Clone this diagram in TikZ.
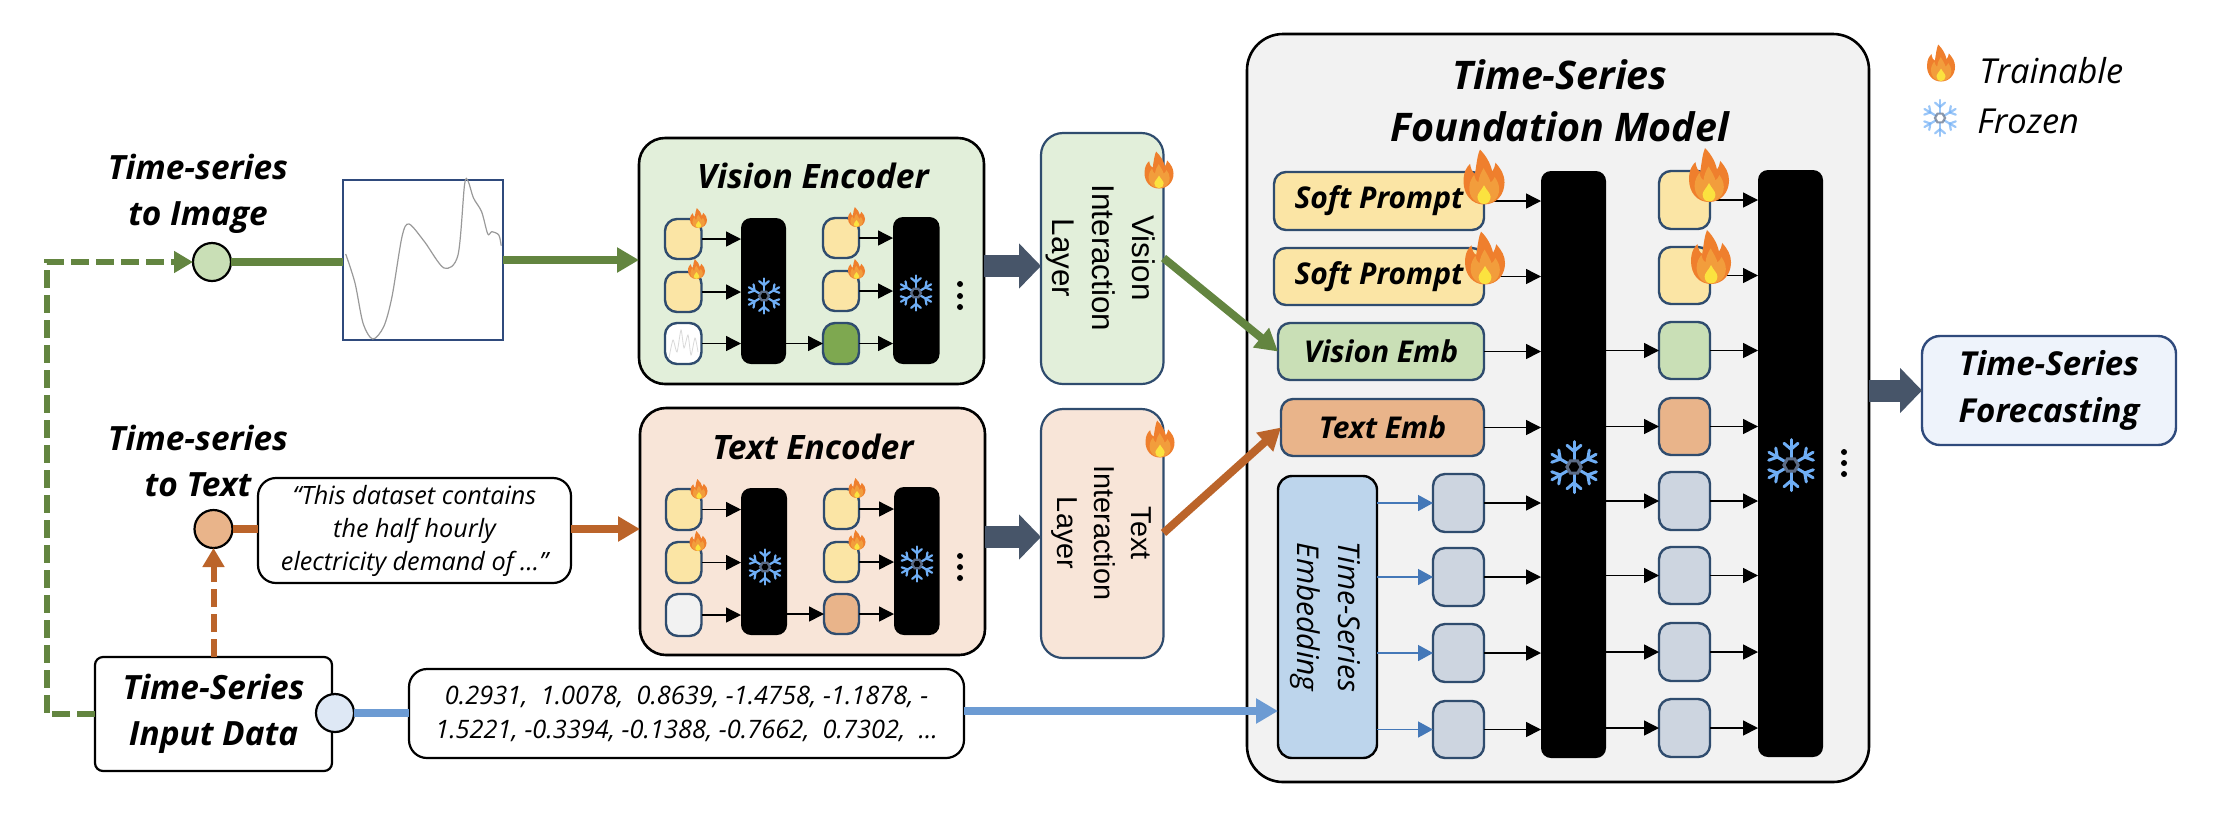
\documentclass[tikz,border=0pt]{standalone}
\usepackage{fontspec}
\usetikzlibrary{arrows.meta,calc}
\newfontfamily\cf{Open Sans}
\newfontfamily\af{Liberation Sans}
\definecolor{gline}{HTML}{638540}
\definecolor{bline}{HTML}{BB642A}
\definecolor{uline}{HTML}{6C9BD3}
\definecolor{tline}{HTML}{4478B8}
\definecolor{edge}{HTML}{2F4C6E}
\definecolor{navy}{HTML}{2F4A7C}
\definecolor{block}{HTML}{475569}
\definecolor{lgreen}{HTML}{E2EFDA}
\definecolor{lorange}{HTML}{F8E5D8}
\definecolor{cgreen}{HTML}{C9DFB6}
\definecolor{corange}{HTML}{E9B48A}
\definecolor{cyellow}{HTML}{FBE5A5}
\definecolor{cgray}{HTML}{CDD5E0}
\definecolor{dgreen}{HTML}{7EA850}
\definecolor{cblue}{HTML}{BDD5EC}
\definecolor{cpale}{HTML}{DEE8F5}
\definecolor{cfore}{HTML}{EEF3FB}
\definecolor{fm}{HTML}{F2F2F2}
\definecolor{fireo}{HTML}{EF7F2D}
\definecolor{firem}{HTML}{F29D3C}
\definecolor{firey}{HTML}{FBE23F}
\definecolor{snowc}{HTML}{6FAEF5}
\definecolor{snowh}{HTML}{5B6B85}
\tikzset{
 box/.style={draw,rectangle,inner sep=0pt,outer sep=0pt,align=center},
 cell/.style={box,draw=edge,line width=1.2pt,rounded corners=6pt},
 bigbox/.style={box,draw=black,line width=1.3pt,rounded corners=13pt},
 txtbox/.style={box,draw=black,line width=1.1pt,rounded corners=9pt},
 ilbox/.style={box,draw=edge,line width=1.1pt,rounded corners=11pt},
 blackbar/.style={box,draw=none,fill=black,rounded corners=5pt},
 ttl/.style={inner sep=0pt,outer sep=0pt,align=center,font=\cf\bfseries\itshape\fontsize{16.7}{23}\selectfont},
 ital/.style={inner sep=0pt,outer sep=0pt,align=center,font=\cf\itshape\fontsize{12.6}{16.5}\selectfont},
 circ/.style={draw=black,circle,line width=1.1pt,minimum size=19pt,inner sep=0pt,outer sep=0pt},
 thinarr/.style={-{Triangle[length=7.5pt,width=7.5pt]},line width=.7pt,black},
 bluearr/.style={-{Triangle[length=7.5pt,width=8pt]},line width=.7pt,tline},
 fat/.style={-{Triangle[length=11pt,width=12pt]},line width=4pt},
 thick dash/.style={-{Triangle[length=9.5pt,width=10.5pt]},line width=3pt,dash pattern=on 9pt off 3.5pt},
 blockarr/.style={-{Triangle[length=11pt,width=22pt]},line width=11pt,draw=block,color=block}
}
\newcommand{\bx}[7]{%
 \pgfmathsetmacro\tmpw{(#5-#3)*0.5}\pgfmathsetmacro\tmph{(#6-#4)*0.5}%
 \node[#1,minimum width=\tmpw pt,minimum height=\tmph pt] (#2) at ({(#3+#5)/2},{(#4+#6)/2}) {#7};}
\newcommand{\snow}[4]{\begin{scope}[shift={(#1,#2)},scale=#3]
 \foreach \a in {30,90,...,330}{
  \draw[snowc,line width=#4pt,line cap=round] (\a:.3)--(\a:1);
  \draw[snowc,line width=#4pt,line cap=round] ([shift={(\a:.62)}]\a+50:.36)--(\a:.62)--([shift={(\a:.62)}]\a-50:.36);}
 \draw[snowh,line width=#4pt] (0:.28)--(60:.28)--(120:.28)--(180:.28)--(240:.28)--(300:.28)--cycle;
\end{scope}}
\newcommand{\fire}[4]{\begin{scope}[shift={(#1,#2)},xscale=#3,yscale=#4]
 \fill[fireo] (0,.5) .. controls (-.3,.5) and (-.5,.32) .. (-.5,.08) .. controls (-.5,-.1) and (-.42,-.18) .. (-.34,-.24)
  .. controls (-.32,-.14) and (-.28,-.08) .. (-.22,-.06) .. controls (-.18,-.25) and (-.16,-.4) .. (-.1,-.5)
  .. controls (.06,-.38) and (.16,-.24) .. (.2,-.1) .. controls (.24,-.14) and (.27,-.2) .. (.28,-.26)
  .. controls (.42,-.14) and (.5,-.04) .. (.5,.1) .. controls (.5,.32) and (.3,.5) .. (0,.5) -- cycle;
 \fill[firem] (0,.49) .. controls (-.22,.49) and (-.36,.36) .. (-.36,.2) .. controls (-.36,.08) and (-.28,0) .. (-.24,-.04)
  .. controls (-.22,.04) and (-.18,.08) .. (-.14,.1) .. controls (-.12,-.02) and (-.06,-.1) .. (-.01,-.16)
  .. controls (.06,-.06) and (.14,.02) .. (.16,.1) .. controls (.2,.08) and (.24,.04) .. (.26,.0)
  .. controls (.32,.06) and (.37,.14) .. (.37,.22) .. controls (.37,.38) and (.22,.49) .. (0,.49) -- cycle;
 \fill[firey] (0,.49) .. controls (-.1,.49) and (-.16,.43) .. (-.16,.36) .. controls (-.16,.3) and (-.06,.24) .. (0,.15)
  .. controls (.06,.24) and (.16,.3) .. (.16,.36) .. controls (.16,.43) and (.1,.49) .. (0,.49) -- cycle;
\end{scope}}
\begin{document}
\begin{tikzpicture}[x=0.5pt,y=-0.5pt]
\useasboundingbox (0,0) rectangle (2214,816);
% left column
\node[ttl] (t1) at (198,194) {Time-series\\to Image};
\node[ttl] (t2) at (198,461) {Time-series\\to Text};
\node[circ,fill=cgreen] (c1) at (212,262) {};
\node[circ,fill=corange] (c2) at (213.5,529) {};
\bx{box,draw=navy,line width=1.1pt}{img}{343}{180}{503}{340}{}
\draw[gray!80,line width=.6pt] plot[smooth,tension=.5] coordinates {(345.7,254)(355,283)(363,323)(372.7,339)(383.7,326.7)(392,296.7)(402,236.7)(409,224)(424.5,241.7)(444,268)(458,255)(464.5,185)(468,181)(473.5,198)(481.6,211.7)(487.8,234)(491.8,231.7)(498.8,235)(501.2,245.7)};
\bx{txtbox,font=\cf\bfseries\itshape\fontsize{16.7}{23}\selectfont,rounded corners=4pt}{inp}{95}{657}{332}{771}{Time-Series\\Input Data}
\node[circ,fill=cpale] (c3) at (335,713) {};
\bx{txtbox,ital}{sent}{258}{478}{571}{583}{“This dataset contains\\the half hourly\\electricity demand of …”}
\bx{txtbox,ital,font=\cf\itshape\fontsize{12.7}{17}\selectfont}{vals}{409}{669}{964}{758}{0.2931,~ 1.0078,~ 0.8639, -1.4758, -1.1878, -\\1.5221, -0.3394, -0.1388, -0.7662,~ 0.7302,~ …}
% encoders
\bx{bigbox,fill=lgreen}{venc}{639}{138}{984}{384}{}
\bx{bigbox,fill=lorange}{tenc}{640}{408}{985}{655}{}
\node[ttl,font=\cf\bfseries\itshape\fontsize{16.8}{24}\selectfont] (vt) at (813,176) {Vision Encoder};
\node[ttl,font=\cf\bfseries\itshape\fontsize{16.8}{24}\selectfont] (tt) at (813,447) {Text Encoder};
% vision cells
\bx{cell,fill=cyellow}{va1}{665}{219}{701.5}{259}{}
\bx{cell,fill=cyellow}{va2}{665}{272}{701.5}{312}{}
\bx{cell,fill=white}{va3}{665}{323}{701.5}{364}{}
\draw[gray!30,line width=.4pt] plot[smooth,tension=.4] coordinates {(669,358)(673,340)(677,352)(681,330)(684,348)(688,335)(691,355)(695,338)(698,352)};
\bx{blackbar}{vb1}{741}{218}{786}{364}{}
\bx{cell,fill=cyellow}{vc1}{823}{218}{859}{258}{}
\bx{cell,fill=cyellow}{vc2}{823}{271}{859}{311}{}
\bx{cell,fill=dgreen}{vc3}{823}{323}{859}{364}{}
\bx{blackbar}{vb2}{893}{217}{939.5}{364}{}
\foreach \a/\b in {va1/vb1,va2/vb1,va3/vb1,vc1/vb2,vc2/vb2,vc3/vb2}{\draw[thinarr] (\a.east)--(\a.east -| \b.west);}
\draw[thinarr] (vc3.west -| vb1.east)--(vc3.west);
% text cells
\bx{cell,fill=cyellow}{ta1}{666}{489}{701.5}{530}{}
\bx{cell,fill=cyellow}{ta2}{666}{542}{701.5}{583}{}
\bx{cell,fill=fm}{ta3}{666}{594}{701.5}{636}{}
\bx{blackbar}{tb1}{741}{488}{787}{635}{}
\bx{cell,fill=cyellow}{tc1}{824}{489}{859}{529}{}
\bx{cell,fill=cyellow}{tc2}{824}{542}{859}{582}{}
\bx{cell,fill=corange}{tc3}{824}{594}{859}{634}{}
\bx{blackbar}{tb2}{894}{487}{939.5}{635}{}
\foreach \a/\b in {ta1/tb1,ta2/tb1,ta3/tb1,tc1/tb2,tc2/tb2,tc3/tb2}{\draw[thinarr] (\a.east)--(\a.east -| \b.west);}
\draw[thinarr] (tc3.west -| tb1.east)--(tc3.west);
\snow{764}{296}{17.5}{1.1}\snow{916}{293}{17.5}{1.1}\snow{765}{567}{17.5}{1.1}\snow{917}{564}{17.5}{1.1}
\foreach \y in {284,296,307}{\fill (960,\y) circle (1.5pt);}
\foreach \y in {556,567,578}{\fill (960,\y) circle (1.5pt);}
\fire{698.5}{218}{17}{20}\fire{696.5}{269}{17}{20}\fire{856.5}{217}{17}{20}\fire{856.5}{269}{17}{20}
\fire{699}{489}{17}{20}\fire{698}{541}{17}{20}\fire{857}{488}{17}{20}\fire{857}{540}{17}{20}
% interaction layers
\bx{ilbox,fill=lgreen}{vil}{1041}{133}{1163.5}{384}{}
\bx{ilbox,fill=lorange}{til}{1041}{409}{1163.5}{658}{}
\node[rotate=-90,inner sep=0pt,align=center,font=\af\fontsize{15.7}{20}\selectfont] (vilt) at (1101,258) {Vision\\Interaction\\Layer};
\node[rotate=-90,inner sep=0pt,align=center,font=\af\fontsize{14.4}{18.5}\selectfont] (tilt) at (1101,533) {Text\\Interaction\\Layer};
\fire{1159}{170}{29}{37}\fire{1160}{439}{29}{37}
\draw[blockarr] (venc.east |- 985,266) -- (vil.west |- 985,266);
\draw[blockarr] (tenc.east |- 985,537) -- (til.west |- 985,537);
% foundation model
\bx{bigbox,fill=fm,rounded corners=18pt}{fm}{1247}{34}{1869}{782}{}
\node[ttl,font=\cf\bfseries\itshape\fontsize{19.7}{26}\selectfont] (fmt) at (1560,101) {Time-Series\\Foundation Model};
\tikzset{cl/.style={inner sep=0pt,font=\cf\bfseries\itshape\fontsize{15}{20}\selectfont}}
\bx{cell,fill=cyellow,cl}{sp1}{1274}{172}{1484}{230}{Soft Prompt}
\bx{cell,fill=cyellow,cl}{sp2}{1274}{248}{1484}{305}{Soft Prompt}
\bx{cell,fill=cgreen,cl}{ve}{1278}{323}{1484}{380}{Vision Emb}
\bx{cell,fill=corange,cl}{te}{1281}{399}{1484}{456}{Text Emb}
\bx{box,draw=black,line width=1.2pt,rounded corners=7pt,fill=cblue}{tse}{1278}{476}{1377}{758}{}
\node[rotate=-90,align=center,inner sep=0pt,font=\cf\itshape\fontsize{15}{20.5}\selectfont] (tset) at (1325,617) {Time-Series\\Embedding};
\bx{cell,fill=cgray}{g1}{1433}{474}{1484}{532}{}
\bx{cell,fill=cgray}{g2}{1433}{548}{1484}{606}{}
\bx{cell,fill=cgray}{g3}{1433}{624}{1484}{682}{}
\bx{cell,fill=cgray}{g4}{1433}{701}{1484}{758}{}
\bx{blackbar}{L1}{1541}{171}{1606}{758}{}
\bx{cell,fill=cyellow}{r1}{1659}{171}{1710}{229}{}
\bx{cell,fill=cyellow}{r2}{1659}{247}{1710}{304}{}
\bx{cell,fill=cgreen}{r3}{1659}{322}{1710}{379}{}
\bx{cell,fill=corange}{r4}{1659}{398}{1710}{455}{}
\bx{cell,fill=cgray}{r5}{1659}{472}{1710}{530}{}
\bx{cell,fill=cgray}{r6}{1659}{547}{1710}{604}{}
\bx{cell,fill=cgray}{r7}{1659}{623}{1710}{681}{}
\bx{cell,fill=cgray}{r8}{1659}{699}{1710}{757}{}
\bx{blackbar}{L2}{1758}{170}{1823}{757}{}
\foreach \a in {sp1,sp2,ve,te,g1,g2,g3,g4}{\draw[thinarr] (\a.east)--(\a.east -| L1.west);}
\foreach \b in {r3,r4,r5,r6,r7,r8}{\draw[thinarr] (\b.west -| L1.east)--(\b.west);}
\foreach \a in {r1,r2,r3,r4,r5,r6,r7,r8}{\draw[thinarr] (\a.east)--(\a.east -| L2.west);}
\foreach \a in {1,2,3,4}{\draw[bluearr] (g\a.west -| tse.east)--(g\a.west);}
\snow{1574}{467}{25.5}{1.5}\snow{1791}{465}{25.5}{1.5}
\foreach \y in {452,463,474}{\fill (1844,\y) circle (1.5pt);}
\fire{1484}{177}{41}{55}\fire{1485}{258}{40}{53}\fire{1709}{175}{40}{54}\fire{1711}{257}{40}{54}
% output
\bx{box,draw=navy,line width=1.2pt,rounded corners=9pt,fill=cfore,font=\cf\bfseries\itshape\fontsize{16.5}{23.5}\selectfont}{fc}{1922}{336}{2176}{445}{Time-Series\\Forecasting}
\draw[blockarr] (fm.east |- fc.west) -- (fc.west);
% legend
\fire{1941}{63}{28}{37}
\begin{scope}[opacity=.7]\snow{1940}{118}{18}{1.1}\end{scope}
\node[inner sep=0pt,anchor=base west,font=\cf\itshape\fontsize{17.2}{20}\selectfont] (lg1) at (1979,83) {Trainable};
\node[inner sep=0pt,anchor=base west,font=\cf\itshape\fontsize{17.2}{20}\selectfont] (lg2) at (1977,133) {Frozen};
% connectors
\coordinate (gc) at (46.5,714);
\draw[thick dash,gline] (inp.west |- gc) -- (gc) |- (c1.west);
\draw[thick dash,bline] (inp.north -| c2) -- (c2.south);
\draw[fat,gline,-] (c1.east) -- (c1.east -| img.west);
\draw[fat,gline] (img.east) -- (img.east -| venc.west);
\draw[fat,bline,-] (c2.east) -- (c2.east -| sent.west);
\draw[fat,bline] (sent.east |- c2) -- (c2 -| tenc.west);
\draw[fat,uline,-] (c3.east) -- (c3.east -| vals.west);
\draw[fat,uline] (vals.east |- 964,711) -- (tse.west |- 964,711);
\draw[fat,gline] (vil.east |- 1163,258) -- (ve.west);
\draw[fat,bline] (til.east |- 1163,533) -- (te.west);
\end{tikzpicture}
\end{document}
